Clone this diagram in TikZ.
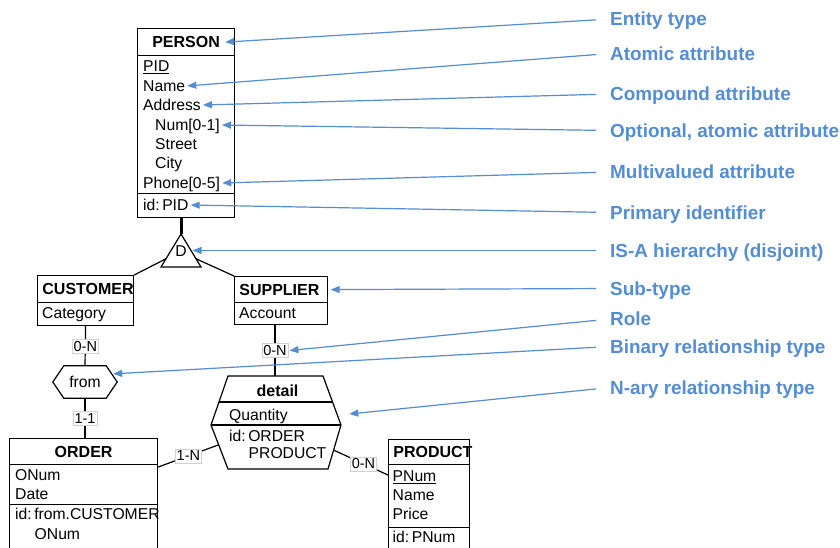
\documentclass[tikz,border=0pt]{standalone}
\usepackage{fontspec}
\setmainfont{Liberation Sans}
\usetikzlibrary{calc,arrows.meta}

\definecolor{callblue}{RGB}{84,141,212}
\newcommand\attrfont{\fontsize{15.7}{18}\selectfont}
\newcommand\titlefont{\fontsize{16}{18}\selectfont\bfseries}
\newcommand\cardfont{\fontsize{14.5}{17}\selectfont}
\newcommand\calloutfont{\fontsize{18.9}{22}\selectfont}

\tikzset{
  boxline/.style={line width=1.2pt, draw=black},
  ebox/.style={boxline, anchor=north west, inner sep=0pt},
  ttl/.style={ebox, font=\titlefont, text height=11.3pt, text depth=0pt, inner xsep=4.8pt},
  txt/.style={anchor=west, inner sep=1pt, font=\attrfont, text height=11.2pt, text depth=0pt},
  card/.style={fill=white, draw=black!18, line width=0.5pt, inner sep=1.5pt, font=\cardfont, text height=10.5pt, text depth=0.5pt},
  callout/.style={draw=callblue, line width=1.2pt, -{Triangle[length=9pt,width=7pt]}, shorten <=14pt},
  lbl/.style={anchor=west, inner sep=0pt, text=callblue, font=\calloutfont\bfseries, text height=13.5pt, text depth=0pt},
}

\begin{document}
\begin{tikzpicture}[x=1pt, y=-1pt]
\clip (0,0) rectangle (840,547);
\fill[white] (0,0) rectangle (840,547);

% ---------- PERSON ----------
\node[ttl, minimum width=97pt, minimum height=27pt] (ptitle) at (137,28) {PERSON};
\node[ebox, minimum width=97pt, minimum height=138pt] (pbody) at (137,55) {};
\node[ebox, minimum width=97pt, minimum height=24pt] (pidbox) at (137,193) {};
\node[txt] (pid) at (142,66) {\underline{PID}};
\node[txt] (pname) at (142,86) {Name};
\node[txt] (paddr) at (142,105) {Address};
\node[txt] (pnum) at (154,125) {Num[0-1]};
\node[txt] (pstreet) at (154,144) {Street};
\node[txt] (pcity) at (154,163) {City};
\node[txt] (pphone) at (142,183) {Phone[0-5]};
\node[txt] (pident) at (142,205) {id:\hspace{2.5pt}PID};

% ---------- IS-A triangle ----------
\coordinate (isaTop) at (181,234);
\coordinate (isaL) at (161,267);
\coordinate (isaR) at (201,267);
\draw[line width=3pt] (pidbox.south -| isaTop) -- (isaTop);
\draw[boxline, line join=miter] (isaTop) -- (isaL) -- (isaR) -- cycle;
\node[txt, anchor=center, inner sep=0pt] (isa) at (181,251) {D};
\coordinate (isaSideL) at ($(isaTop)!0.75!(isaL)$);
\coordinate (isaSideR) at ($(isaTop)!0.75!(isaR)$);

% ---------- CUSTOMER ----------
\node[ttl, text width=86.4pt, align=left, minimum height=27pt] (ctitle) at (37,275) {CUSTOMER};
\node[ebox, minimum width=96pt, minimum height=23pt] (cbody) at (37,302) {};
\node[txt] (ccat) at (41,313) {Category};

% ---------- SUPPLIER ----------
\node[ttl, text width=83.4pt, align=left, minimum height=26pt] (stitle) at (234,276) {SUPPLIER};
\node[ebox, minimum width=93pt, minimum height=22pt] (sbody) at (234,302) {};
\node[txt] (sacc) at (238,313) {Account};

\draw[boxline] (isaSideL) -- (ctitle.north east);
\draw[boxline] (isaSideR) -- (stitle.north west);

% ---------- from (binary relationship) ----------
\node[inner sep=0pt, minimum width=64pt, minimum height=32pt, font=\attrfont, text height=11pt, text depth=0pt] (from) at (85,382) {from};
\coordinate (hexTL) at ([xshift=11pt]from.north west);
\coordinate (hexTR) at ([xshift=-11pt]from.north east);
\coordinate (hexBL) at ([xshift=11pt]from.south west);
\coordinate (hexBR) at ([xshift=-11pt]from.south east);
\draw[boxline] (from.west) -- (hexTL) -- (hexTR) -- (from.east) -- (hexBR) -- (hexBL) -- cycle;

% ---------- ORDER ----------
\node[ttl, minimum width=148pt, minimum height=26pt] (otitle) at (9,438) {ORDER};
\node[ebox, minimum width=148pt, minimum height=40pt] (obody) at (9,464) {};
\node[ebox, minimum width=148pt, minimum height=60pt] (oidbox) at (9,504) {};
\node[txt] (onum) at (14,475) {ONum};
\node[txt] (odate) at (14,494) {Date};
\node[txt] (oident) at (14,514) {id:\hspace{2.5pt}from.CUSTOMER};
\node[txt] (onum2) at (33.5,534) {ONum};

% ---------- detail (N-ary relationship) ----------
\coordinate (dTL) at (228,376);
\coordinate (dTR) at (323,376);
\coordinate (dMR) at (341,425);
\coordinate (dBR) at (328,469);
\coordinate (dBL) at (228,469);
\coordinate (dML) at (211,425);
\coordinate (dTop) at (275,376);
\draw[boxline] (dTL) -- (dTR) -- (dMR) -- (dBR) -- (dBL) -- (dML) -- cycle;
\draw[boxline] ($(dTL)!0.53!(dML)$) -- ($(dTR)!0.53!(dMR)$);
\draw[boxline] (dML) -- (dMR);
\node[font=\titlefont, text height=11.3pt, text depth=0pt, inner sep=0pt] (detail) at (277.5,391) {detail};
\node[txt] (dqty) at (228,415) {Quantity};
\node[txt] (dident) at (228,436) {id:\hspace{2.5pt}ORDER};
\node[txt] (dprod) at (247.5,453) {PRODUCT};
\coordinate (dEdgeL) at ($(dML)!0.45!(dBL)$);
\coordinate (dEdgeR) at ($(dMR)!0.57!(dBR)$);

% ---------- PRODUCT ----------
\node[ttl, text width=71.4pt, align=left, minimum height=25pt] (prtitle) at (388,439) {PRODUCT};
\node[ebox, minimum width=81pt, minimum height=63pt] (prbody) at (388,464) {};
\node[ebox, minimum width=81pt, minimum height=40pt] (pridbox) at (388,527) {};
\node[txt] (prnum) at (391.5,476) {\underline{PNum}};
\node[txt] (prname) at (391.5,495) {Name};
\node[txt] (prprice) at (391.5,514) {Price};
\node[txt] (prident) at (391.5,537) {id:\hspace{2.5pt}PNum};

% ---------- roles and cardinalities ----------
\draw[boxline] (cbody.south) -- node[card] (c1) {0-N} (from.north);
\draw[boxline] (from.south) -- node[card] (c2) {1-1} (from.south |- otitle.north);
\draw[boxline] (sbody.south -| dTop) -- node[card] (c3) {0-N} (dTop);
\draw[boxline] ([yshift=-3pt]obody.north east) -- node[card] (c4) {1-N} (dEdgeL);
\draw[boxline] (dEdgeR) -- node[card, pos=0.55] (c5) {0-N} ([yshift=-11pt]prbody.north west);

% ---------- legend ----------
\node[lbl] (lEntity) at (610,19) {Entity type};
\node[lbl] (lAtomic) at (610,53.5) {Atomic attribute};
\node[lbl] (lCompound) at (610,94) {Compound attribute};
\node[lbl] (lOptional) at (610,130.5) {Optional, atomic attribute};
\node[lbl] (lMulti) at (610,172) {Multivalued attribute};
\node[lbl] (lPrimary) at (610,212.5) {Primary identifier};
\node[lbl] (lIsa) at (610,250.5) {IS-A hierarchy (disjoint)};
\node[lbl] (lSub) at (610,288.5) {Sub-type};
\node[lbl] (lRole) at (610,319) {Role};
\node[lbl] (lBinary) at (610,346.5) {Binary relationship type};
\node[lbl] (lNary) at (610,387.5) {N-ary relationship type};

\draw[callout] (lEntity.west) -- ([xshift=-10pt]ptitle.east);
\draw[callout, shorten >=1pt] (lAtomic.west) -- (pname.east);
\draw[callout, shorten >=1pt] (lCompound.west) -- (paddr.east);
\draw[callout, shorten >=1pt] (lOptional.west) -- (pnum.east);
\draw[callout, shorten >=1pt] (lMulti.west) -- (pphone.east);
\draw[callout, shorten >=1pt] (lPrimary.west) -- (pident.east);
\draw[callout, shorten >=1.5pt] (lIsa.west) -- ($(isaTop)!0.5!(isaR)$);
\draw[callout, shorten >=2.5pt] (lSub.west) -- (stitle.east);
\draw[callout, shorten >=1pt] (lRole.west) -- (c3.east);
\draw[callout, shorten >=1.5pt] (lBinary.west) -- ($(from.east)!0.5!(hexTR)$);
\draw[callout, shorten >=12pt] (lNary.west) -- ($(dTR)!0.8!(dMR)$);
\end{tikzpicture}
\end{document}
